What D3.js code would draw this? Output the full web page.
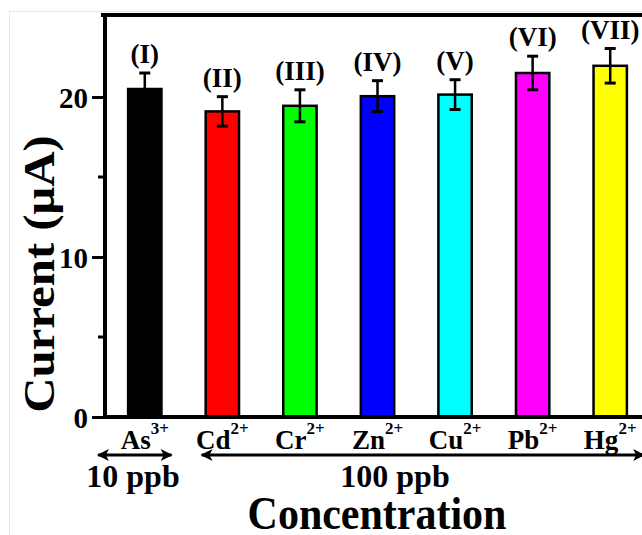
<!DOCTYPE html>
<html>
<head>
<meta charset="utf-8">
<script src="https://cdn.jsdelivr.net/npm/d3@7"></script>
<style>
  body { margin: 0; background: #fff; }
  text { font-family: "Liberation Serif", "Times New Roman", serif; font-weight: bold; }
</style>
</head>
<body>
<div id="chart"></div>
<script>
const width = 642
const height = 535

// data
const ions = ['As', 'Cd', 'Cr', 'Zn', 'Cu', 'Pb', 'Hg']
const charges = ['3+', '2+', '2+', '2+', '2+', '2+', '2+']
const romanLabels = ['(I)', '(II)', '(III)', '(IV)', '(V)', '(VI)', '(VII)']
const currents = [20.5, 19.1, 19.45, 20.05, 20.15, 21.5, 21.95]
const errors = [1.0, 0.92, 1.0, 0.97, 0.93, 1.05, 1.08]
const barColors = ['#000000', '#ff0000', '#00ff00', '#0000ff', '#00ffff', '#ff00ff', '#ffff00']
const yTicks = [0, 10, 20]
const yMinorTicks = [5, 15]
const concGroups = ['10 ppb', '100 ppb']

const axisX = 105
const topY = 15

const x = d3.scaleBand()
    .domain(ions)
    .range([106, 649])
    .paddingInner(0.57)
    .paddingOuter(0.285)

const y = d3.scaleLinear()
    .domain([0, 25.125])
    .range([417, topY])

const svg = d3.select('#chart').append('svg')
    .attr('width', width)
    .attr('height', height)

// faint outer frame of the original picture
svg.append('rect')
    .attr('x', 9.5).attr('y', 11.5)
    .attr('width', width).attr('height', height)
    .attr('fill', 'none')
    .attr('stroke', '#e6e6e6')

// bars
svg.append('g')
    .selectAll('rect')
    .data(ions)
    .enter().append('rect')
    .attr('x', d => x(d))
    .attr('y', (d, i) => y(currents[i]))
    .attr('width', x.bandwidth())
    .attr('height', (d, i) => y(0) - y(currents[i]))
    .attr('fill', (d, i) => barColors[i])
    .attr('stroke', '#000')
    .attr('stroke-width', 2.5)

// error bars
const eb = svg.append('g')
    .attr('stroke', '#000')
    .attr('stroke-width', 2.5)
ions.forEach((d, i) => {
  const cx = x(d) + x.bandwidth() / 2
  const hi = y(currents[i] + errors[i])
  const lo = y(currents[i] - errors[i])
  eb.append('line').attr('x1', cx).attr('x2', cx).attr('y1', hi).attr('y2', lo)
  eb.append('line').attr('x1', cx - 5.5).attr('x2', cx + 5.5).attr('y1', hi).attr('y2', hi).attr('stroke-width', 3)
  eb.append('line').attr('x1', cx - 5.5).attr('x2', cx + 5.5).attr('y1', lo).attr('y2', lo).attr('stroke-width', 3)
})

// roman numeral labels above the bars
svg.append('g')
    .selectAll('text')
    .data(romanLabels)
    .enter().append('text')
    .attr('x', (d, i) => x(ions[i]) + x.bandwidth() / 2)
    .attr('y', (d, i) => y(currents[i] + errors[i]) - 10)
    .attr('text-anchor', 'middle')
    .style('font-size', '27px')
    .text(d => d)

// y axis
const yAxis = d3.axisLeft(y).tickValues(yTicks).tickSize(13).tickFormat(d3.format('d'))
const gy = svg.append('g')
    .attr('transform', 'translate(' + axisX + ',0)')
    .call(yAxis)
gy.select('.domain').remove()
gy.selectAll('.tick line').attr('stroke', '#000').attr('stroke-width', 3)
gy.selectAll('.tick text')
    .attr('x', -17)
    .attr('dy', '0.36em')
    .style('font-size', '29px')
    .style('font-family', '"Liberation Serif", serif')
    .attr('fill', '#000')

svg.append('g')
    .attr('stroke', '#000')
    .attr('stroke-width', 3)
    .selectAll('line')
    .data(yMinorTicks)
    .enter().append('line')
    .attr('x1', axisX - 7).attr('x2', axisX)
    .attr('y1', d => y(d)).attr('y2', d => y(d))

// frame: left, bottom and top
const frame = svg.append('g').attr('stroke', '#000').attr('stroke-width', 4).attr('fill', 'none')
frame.append('path')
    .attr('d', 'M' + (axisX - 4) + ',' + y(25.125) + 'H' + 660 + 'M' + axisX + ',' + (y(25.125) - 2) + 'V' + (y(0) + 2) + 'M' + (axisX - 2) + ',' + y(0) + 'H' + 660)

// x tick labels with superscript charges
const xl = svg.append('g')
    .selectAll('text')
    .data(ions)
    .enter().append('text')
    .attr('x', d => x(d) + x.bandwidth() / 2)
    .attr('y', 449)
    .attr('text-anchor', 'middle')
    .style('font-size', '27px')
xl.append('tspan').text(d => d)
xl.append('tspan')
    .attr('dy', -15)
    .style('font-size', '17px')
    .text((d, i) => charges[i])

// concentration arrows
const defs = svg.append('defs')
defs.append('marker')
    .attr('id', 'head')
    .attr('viewBox', '0 0 10 10')
    .attr('refX', 9).attr('refY', 5)
    .attr('markerWidth', 5.5).attr('markerHeight', 4)
    .attr('markerUnits', 'strokeWidth')
    .attr('orient', 'auto-start-reverse')
    .append('path')
    .attr('d', 'M0,0L10,5L0,10L2.5,5Z')
    .attr('fill', '#000')

const arrowY = 455
const arrowSpans = [
  [x('As') - 30, x('As') + x.bandwidth() + 10],
  [x('Cd') - 4, 644]
]
svg.append('g')
    .selectAll('line')
    .data(arrowSpans)
    .enter().append('line')
    .attr('x1', d => d[0]).attr('x2', d => d[1])
    .attr('y1', arrowY).attr('y2', arrowY)
    .attr('stroke', '#000')
    .attr('stroke-width', 3)
    .attr('marker-start', 'url(#head)')
    .attr('marker-end', 'url(#head)')

svg.append('g')
    .selectAll('text')
    .data(concGroups)
    .enter().append('text')
    .attr('x', (d, i) => i === 0 ? 133 : 395)
    .attr('y', 487)
    .attr('text-anchor', 'middle')
    .style('font-size', '32px')
    .text(d => d)

// axis titles
svg.append('text')
    .attr('transform', 'translate(377,529) scale(1,1.1)')
    .attr('text-anchor', 'middle')
    .style('font-size', '42px')
    .text('Concentration')

svg.append('text')
    .attr('transform', 'translate(54,274) rotate(-90) scale(1.11,1)')
    .attr('text-anchor', 'middle')
    .style('font-size', '44px')
    .text('Current (μA)')
</script>
</body>
</html>
